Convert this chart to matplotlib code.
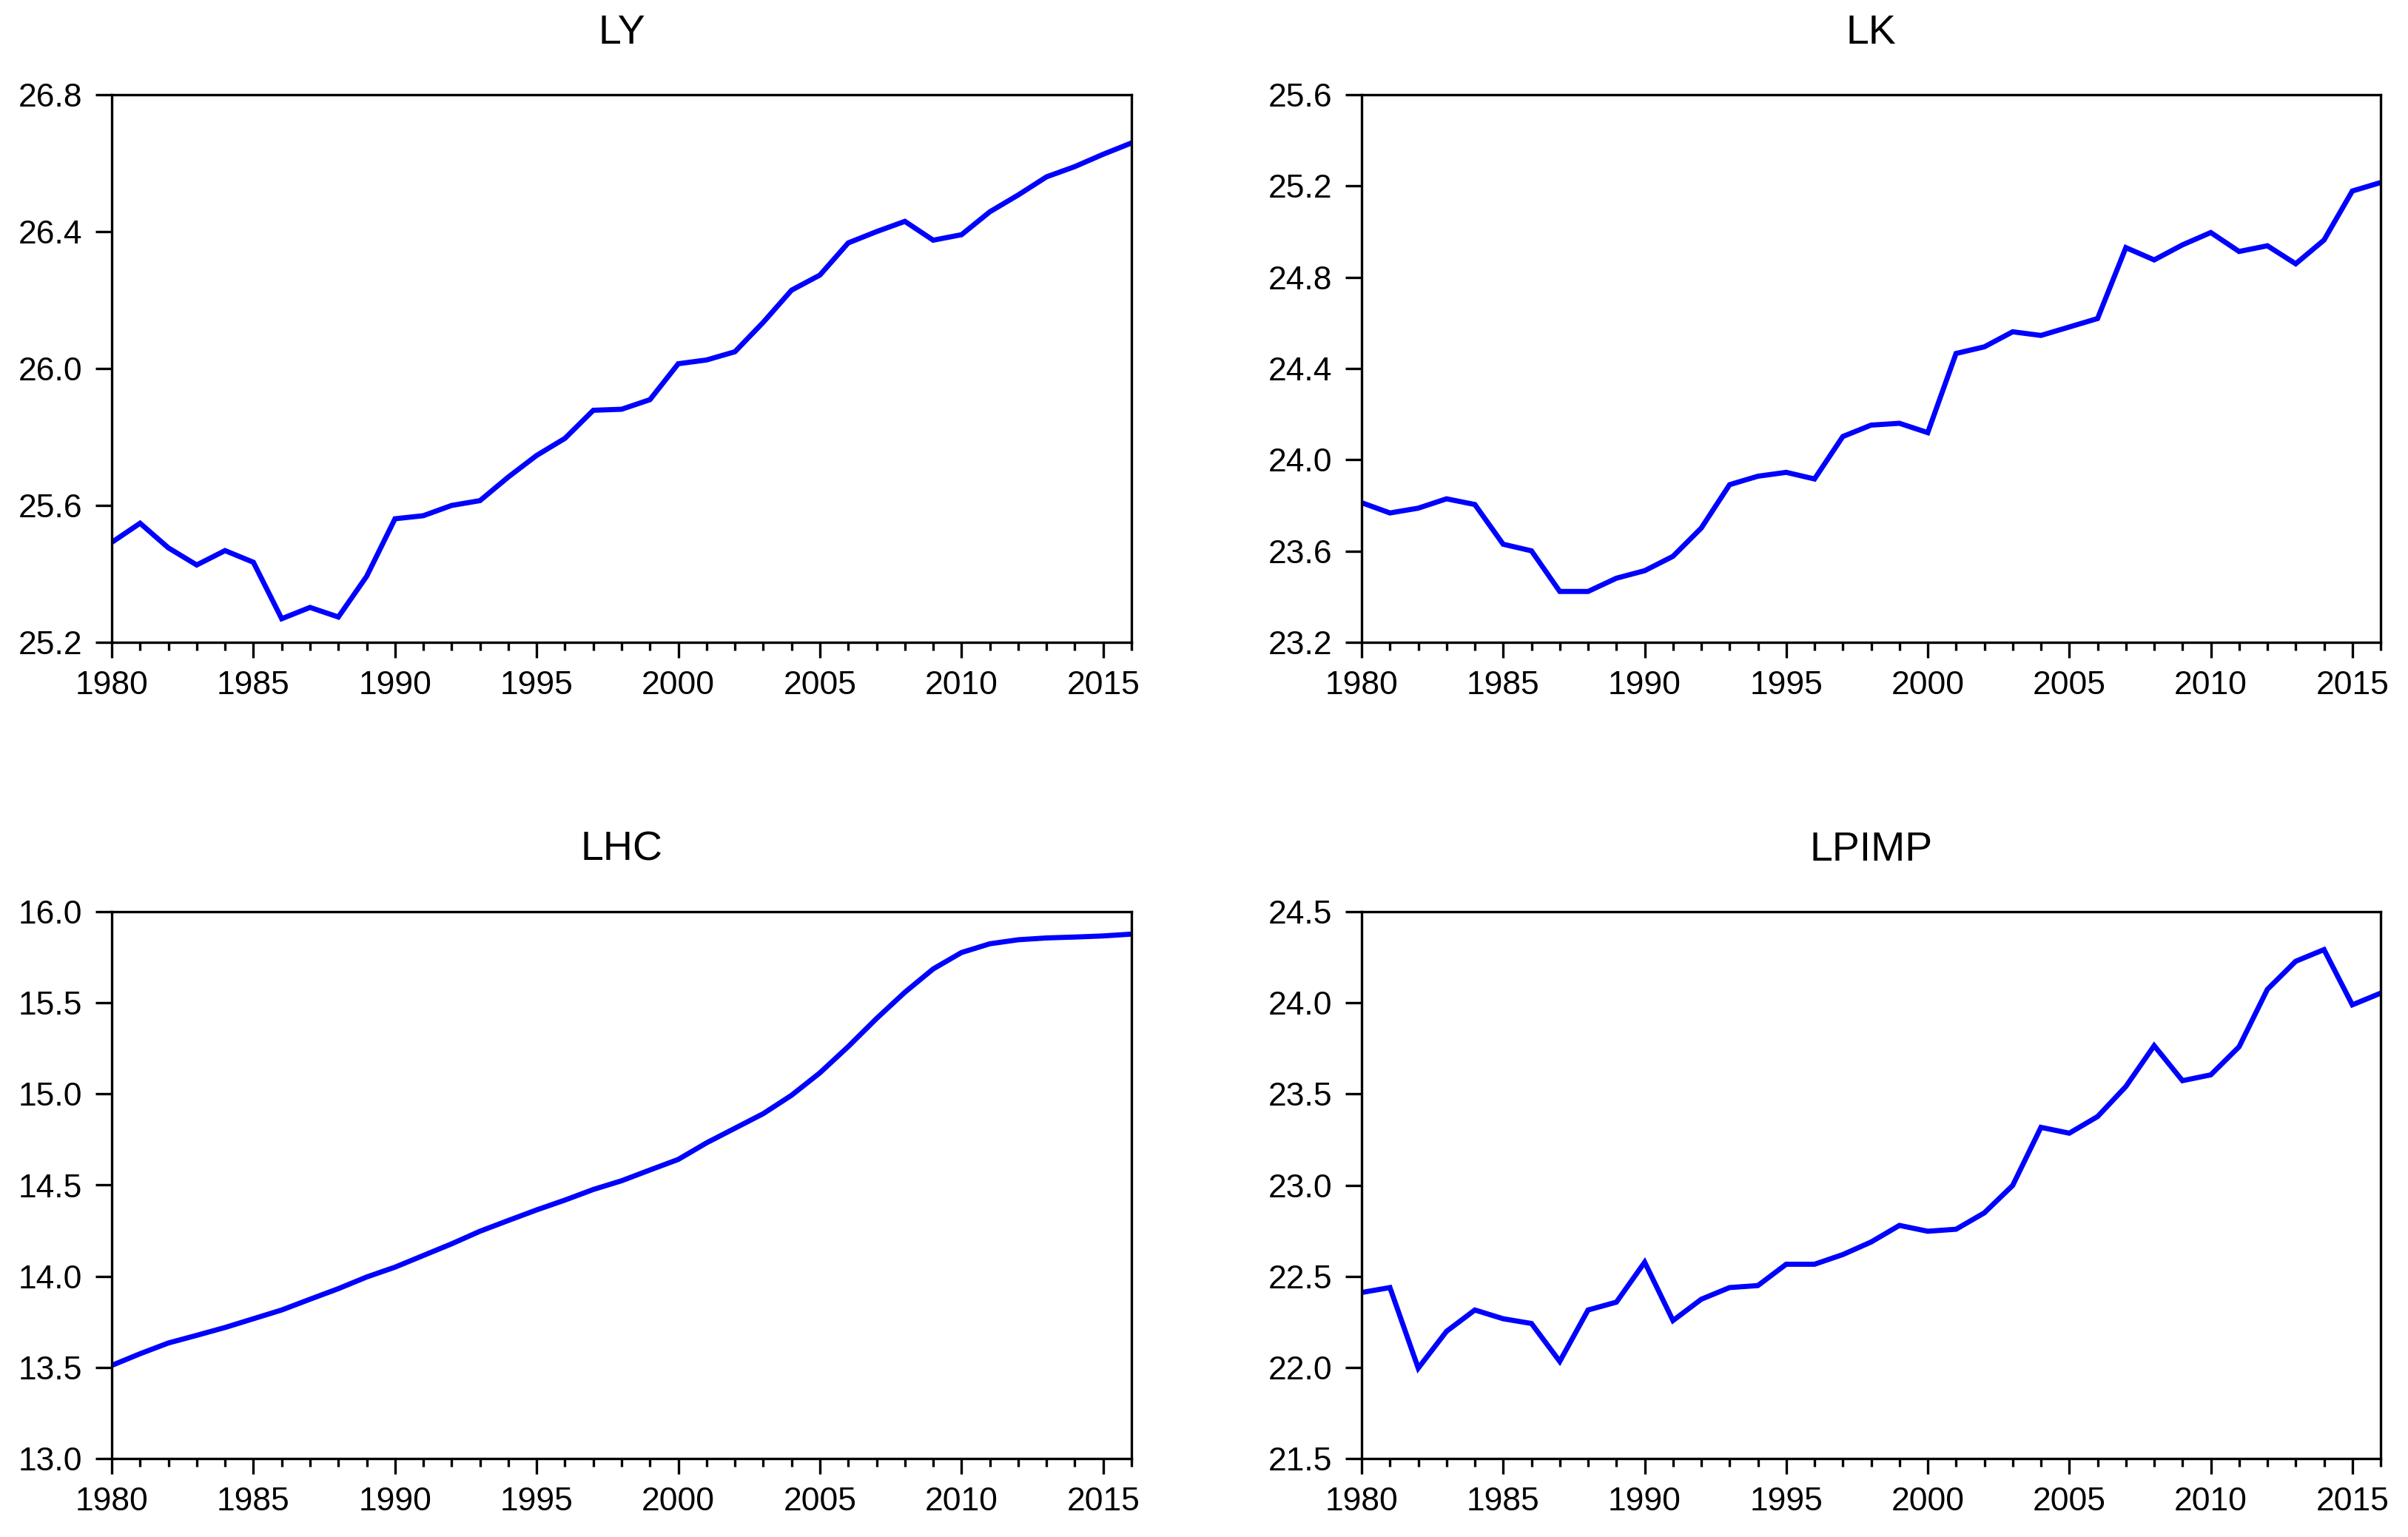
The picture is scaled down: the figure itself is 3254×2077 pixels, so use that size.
import matplotlib
matplotlib.use("Agg")
import matplotlib.pyplot as plt
from matplotlib.ticker import MultipleLocator, FormatStrFormatter, FixedLocator

plt.rcParams['font.family'] = ['Liberation Sans', 'DejaVu Sans']

years = list(range(1980, 2017))

LY = [25.492, 25.548, 25.476, 25.426, 25.468, 25.434, 25.269, 25.302, 25.274, 25.393,
      25.561, 25.570, 25.600, 25.614, 25.683, 25.746, 25.796, 25.878, 25.881, 25.909,
      26.014, 26.025, 26.049, 26.135, 26.229, 26.273, 26.367, 26.400, 26.430, 26.375,
      26.391, 26.458, 26.507, 26.560, 26.590, 26.626, 26.659]

LK = [23.812, 23.767, 23.788, 23.829, 23.804, 23.630, 23.601, 23.423, 23.423, 23.481,
      23.514, 23.577, 23.701, 23.891, 23.928, 23.945, 23.916, 24.102, 24.152, 24.160,
      24.119, 24.466, 24.495, 24.561, 24.545, 24.582, 24.619, 24.930, 24.876, 24.942,
      24.996, 24.913, 24.938, 24.859, 24.963, 25.178, 25.215]

LHC = [13.511, 13.575, 13.634, 13.676, 13.719, 13.767, 13.815, 13.874, 13.932, 13.996,
       14.050, 14.114, 14.178, 14.247, 14.306, 14.364, 14.418, 14.476, 14.524, 14.583,
       14.641, 14.732, 14.812, 14.892, 14.993, 15.116, 15.260, 15.414, 15.558, 15.686,
       15.776, 15.824, 15.846, 15.856, 15.861, 15.867, 15.877]

LPIMP = [22.411, 22.438, 21.996, 22.198, 22.315, 22.267, 22.241, 22.033, 22.315, 22.358,
         22.577, 22.257, 22.374, 22.438, 22.449, 22.566, 22.566, 22.619, 22.688, 22.779,
         22.747, 22.758, 22.848, 22.998, 23.317, 23.285, 23.376, 23.541, 23.765, 23.573,
         23.605, 23.759, 24.074, 24.228, 24.292, 23.989, 24.053]

titles = ["LY", "LK", "LHC", "LPIMP"]
series = [LY, LK, LHC, LPIMP]
ylims = [(25.2, 26.8), (23.2, 25.6), (13.0, 16.0), (21.5, 24.5)]
ysteps = [0.4, 0.4, 0.5, 0.5]
xlabel_years = [1980, 1985, 1990, 1995, 2000, 2005, 2010, 2015]

W, H = 3255, 2077
fig = plt.figure(figsize=(W / 100, H / 100), dpi=100)

boxes = [
    (151, 128, 1529, 868),
    (1840, 128, 3217, 868),
    (151, 1232, 1529, 1971),
    (1840, 1232, 3217, 1971),
]

for (x0, y0, x1, y1), title, data, ylim, ystep in zip(boxes, titles, series, ylims, ysteps):
    ax = fig.add_axes([x0 / W, 1 - y1 / H, (x1 - x0) / W, (y1 - y0) / H])
    ax.plot(years, data, color=(0, 0, 1), lw=5, solid_joinstyle='miter')
    ax.set_xlim(1980, 2016)
    ax.set_ylim(*ylim)
    ax.yaxis.set_major_locator(MultipleLocator(ystep))
    ax.yaxis.set_major_formatter(FormatStrFormatter('%.1f'))
    ax.xaxis.set_major_locator(FixedLocator(xlabel_years))
    ax.xaxis.set_minor_locator(MultipleLocator(1))
    ax.xaxis.set_major_formatter(FormatStrFormatter('%d'))
    for s in ax.spines.values():
        s.set_linewidth(2.4)
    ax.tick_params(axis='both', which='major', direction='out', width=2.4,
                   labelsize=32, top=False, right=False)
    ax.tick_params(axis='y', which='major', length=15.8, pad=13)
    ax.tick_params(axis='x', which='major', length=15.2, pad=12.5)
    ax.tick_params(axis='x', which='minor', direction='out', length=8, width=2.4,
                   top=False)
    ax.set_title(title, fontsize=40, pad=50)

fig.savefig("out.png", dpi=100)
